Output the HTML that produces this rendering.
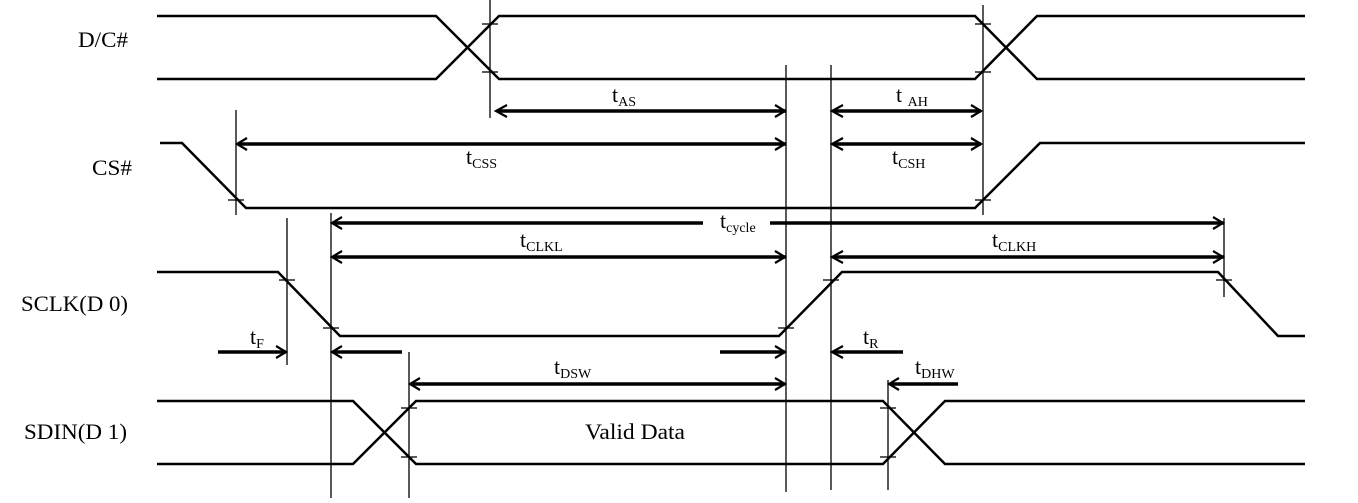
<!DOCTYPE html>
<html><head><meta charset="utf-8"><style>
html,body{margin:0;padding:0;background:#fff;}
svg{display:block;}
text{font-family:"Liberation Serif",serif;fill:#000;}
</style></head><body>
<svg width="1358" height="503" viewBox="0 0 1358 503" xmlns="http://www.w3.org/2000/svg">
<g fill="none" stroke="#000" stroke-width="2.5" stroke-linejoin="miter">
<polyline points="157,16 436,16 499,79 975,79 1037,16 1305,16"/>
<polyline points="157,79 436,79 499,16 975,16 1037,79 1305,79"/>
<polyline points="160,143 182,143 246,208 975,208 1040,143 1305,143"/>
<polyline points="157,272 278,272 340,336 779,336 842,272 1218,272 1278,336 1305,336"/>
<polyline points="157,401 353,401 416,464 883,464 945,401 1305,401"/>
<polyline points="157,464 353,464 416,401 883,401 945,464 1305,464"/>
</g>
<g stroke="#000" stroke-width="1.3">
<line x1="490" y1="0" x2="490" y2="118"/>
<line x1="983" y1="5" x2="983" y2="215"/>
<line x1="236" y1="110" x2="236" y2="215"/>
<line x1="287" y1="218" x2="287" y2="365"/>
<line x1="331" y1="213" x2="331" y2="498"/>
<line x1="409" y1="352" x2="409" y2="498"/>
<line x1="786" y1="65" x2="786" y2="492"/>
<line x1="831" y1="65" x2="831" y2="490"/>
<line x1="1224" y1="218" x2="1224" y2="297"/>
<line x1="888" y1="380" x2="888" y2="490"/>
<line x1="482" y1="24" x2="498" y2="24"/><line x1="482" y1="72" x2="498" y2="72"/>
<line x1="975" y1="24" x2="991" y2="24"/><line x1="975" y1="72" x2="991" y2="72"/>
<line x1="228" y1="200" x2="244" y2="200"/><line x1="975" y1="200" x2="991" y2="200"/>
<line x1="279" y1="280" x2="295" y2="280"/><line x1="323" y1="328" x2="339" y2="328"/>
<line x1="778" y1="328" x2="794" y2="328"/><line x1="823" y1="280" x2="839" y2="280"/>
<line x1="1216" y1="280" x2="1232" y2="280"/>
<line x1="401" y1="408" x2="417" y2="408"/><line x1="401" y1="457" x2="417" y2="457"/>
<line x1="880" y1="408" x2="896" y2="408"/><line x1="880" y1="457" x2="896" y2="457"/>
</g>
<g fill="none" stroke="#000" stroke-width="3.5">
<line x1="497" y1="111" x2="786" y2="111"/>
<line x1="833" y1="111" x2="981" y2="111"/>
<line x1="238" y1="144" x2="786" y2="144"/>
<line x1="833" y1="144" x2="981" y2="144"/>
<line x1="333" y1="223" x2="703" y2="223"/>
<line x1="770" y1="223" x2="1224" y2="223"/>
<line x1="333" y1="257" x2="786" y2="257"/>
<line x1="833" y1="257" x2="1224" y2="257"/>
<line x1="218" y1="352" x2="286" y2="352"/>
<line x1="333" y1="352" x2="402" y2="352"/>
<line x1="720" y1="352" x2="785" y2="352"/>
<line x1="833" y1="352" x2="903" y2="352"/>
<line x1="411" y1="384" x2="785" y2="384"/>
<line x1="890" y1="384" x2="958" y2="384"/>
</g>
<g fill="none" stroke="#000" stroke-width="2.2">
<polyline points="507,105 496,111 507,117"/>
<polyline points="843,105 832,111 843,117"/>
<polyline points="247,138 237,144 247,150"/>
<polyline points="843,138 832,144 843,150"/>
<polyline points="342,217 332,223 342,229"/>
<polyline points="342,251 332,257 342,263"/>
<polyline points="843,251 832,257 843,263"/>
<polyline points="342,346 332,352 342,358"/>
<polyline points="843,346 832,352 843,358"/>
<polyline points="420,378 410,384 420,390"/>
<polyline points="899,378 889,384 899,390"/>
<polyline points="775,105 785,111 775,117"/>
<polyline points="971,105 981,111 971,117"/>
<polyline points="775,138 785,144 775,150"/>
<polyline points="971,138 981,144 971,150"/>
<polyline points="1213,217 1223,223 1213,229"/>
<polyline points="775,251 785,257 775,263"/>
<polyline points="1213,251 1223,257 1213,263"/>
<polyline points="276,346 286,352 276,358"/>
<polyline points="775,346 785,352 775,358"/>
<polyline points="775,378 785,384 775,390"/>
</g>
<g font-size="22" lengthAdjust="spacingAndGlyphs">
<text x="78" y="47" textLength="50" lengthAdjust="spacingAndGlyphs">D/C#</text>
<text x="92" y="175" textLength="40" lengthAdjust="spacingAndGlyphs">CS#</text>
<text x="21" y="311" textLength="107" lengthAdjust="spacingAndGlyphs">SCLK(D 0)</text>
<text x="24" y="439" textLength="103" lengthAdjust="spacingAndGlyphs">SDIN(D 1)</text>
<text x="585" y="439" textLength="100" lengthAdjust="spacingAndGlyphs">Valid Data</text>
</g>
<g font-size="22">
<text x="612" y="102">t<tspan font-size="14" dy="4">AS</tspan></text>
<text x="896" y="102">t <tspan font-size="14" dy="4">AH</tspan></text>
<text x="466" y="164">t<tspan font-size="14" dy="4">CSS</tspan></text>
<text x="892" y="164">t<tspan font-size="14" dy="4">CSH</tspan></text>
<text x="720" y="228">t<tspan font-size="14" dy="4">cycle</tspan></text>
<text x="520" y="247">t<tspan font-size="14" dy="4">CLKL</tspan></text>
<text x="992" y="247">t<tspan font-size="14" dy="4">CLKH</tspan></text>
<text x="250" y="344">t<tspan font-size="14" dy="4">F</tspan></text>
<text x="863" y="344">t<tspan font-size="14" dy="4">R</tspan></text>
<text x="554" y="374">t<tspan font-size="14" dy="4">DSW</tspan></text>
<text x="915" y="374">t<tspan font-size="14" dy="4">DHW</tspan></text>
</g>
</svg>
</body></html>
